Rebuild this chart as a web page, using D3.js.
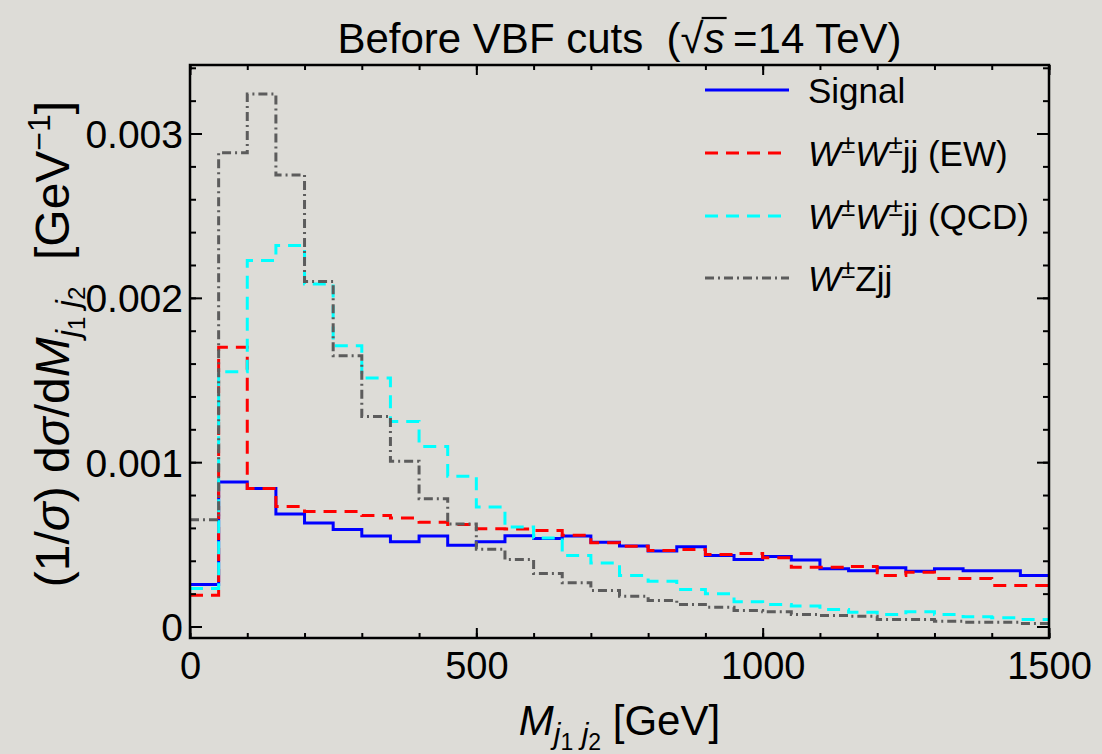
<!DOCTYPE html>
<html><head><meta charset="utf-8">
<script src="https://cdn.jsdelivr.net/npm/d3@7/dist/d3.min.js"></script>
<style>
html,body{margin:0;padding:0;background:#dddcd7;}
svg{display:block;}
text{font-family:"Liberation Sans",Arial,Helvetica,sans-serif;fill:#000;white-space:pre;}
</style></head><body>
<svg id="c" width="1102" height="754"></svg>
<script>
// ---- data (bins of 50 GeV from 0 to 1500) ----
const binEdges = d3.range(0, 1501, 50);
const signal = [0.000255,0.00088,0.00084,0.000685,0.00063,0.00059,0.00055,0.000515,0.00055,0.000494,
  0.000515,0.000553,0.000535,0.00055,0.000513,0.00049,0.00046,0.000485,0.000432,0.000407,
  0.000426,0.000405,0.000351,0.00034,0.000357,0.000336,0.000351,0.00034,0.00034,0.00031];
const wwEW = [0.00019,0.0017,0.00084,0.000731,0.0007,0.0007,0.000675,0.00066,0.000634,0.00062,
  0.000595,0.000594,0.000584,0.000555,0.000509,0.000488,0.000462,0.000468,0.000438,0.000444,
  0.000418,0.00036,0.00036,0.000365,0.00031,0.00033,0.000292,0.000292,0.000249,0.000249];
const wwQCD = [0.000231,0.00155,0.002227,0.002318,0.002085,0.001708,0.001512,0.001248,0.001096,0.000914,
  0.000727,0.000606,0.000539,0.000432,0.000387,0.00031,0.000276,0.000225,0.0002,0.00015,
  0.000134,0.000124,0.000103,0.000087,0.000073,0.00009,0.000073,0.000059,0.000053,0.000043];
const wz = [0.00065,0.002883,0.00324,0.002748,0.0021,0.001647,0.001278,0.001005,0.000778,0.000624,
  0.00047,0.000407,0.000322,0.000266,0.000219,0.000184,0.000158,0.000134,0.000117,0.000097,
  0.00009,0.000073,0.000067,0.000063,0.000043,0.000043,0.000032,0.000026,0.000026,0.000018];
const xMajorTicks = [0, 500, 1000, 1500];
const xMinorTicks = d3.range(0, 1501, 100);
const yMajorTicks = [0, 0.001, 0.002, 0.003];
const yMinorTicks = d3.range(0, 0.00341, 0.0002);
const yTickLabels = ["0", "0.001", "0.002", "0.003"];
const seriesNames = ["Signal", "EW", "QCD", "WZ"];

const series = [
  {name:"Signal", values:signal, color:"#0000ff", dash:null},
  {name:"EW", values:wwEW, color:"#ff0000", dash:"13,8"},
  {name:"QCD", values:wwQCD, color:"#00ffff", dash:"13,8"},
  {name:"WZ", values:wz, color:"#5c5c5c", dash:"9,4,2,4"}
];

const L = 190, R = 1049, T = 65, B = 638;
const svg = d3.select("#c");
const x = d3.scaleLinear().domain([0, 1500]).range([L, R]);
const y = d3.scaleLinear().domain([-0.00007, 0.003417]).range([B, T]);

svg.append("defs").append("clipPath").attr("id","clip")
  .append("rect").attr("x",L).attr("y",T).attr("width",R-L).attr("height",B-T);

const line = d3.line().x(d=>x(d[0])).y(d=>y(d[1])).curve(d3.curveStepAfter);
const g = svg.append("g").attr("clip-path","url(#clip)");
series.forEach(s=>{
  const pts = s.values.map((v,i)=>[binEdges[i], v]);
  pts.push([binEdges[s.values.length], s.values[s.values.length-1]]);
  g.append("path").attr("d", line(pts)).attr("fill","none")
    .attr("stroke", s.color).attr("stroke-width", 3)
    .attr("stroke-dasharray", s.dash);
});

// ---- axes / frame ----
function styleAxis(sel){
  sel.select(".domain").remove();
  sel.selectAll(".tick line").attr("stroke","#000").attr("stroke-width",2);
}
const fmt = d => yTickLabels[yMajorTicks.indexOf(d)];
// bottom
svg.append("g").attr("transform",`translate(0,${B})`)
  .call(d3.axisBottom(x).tickValues(xMinorTicks).tickSize(-5).tickFormat("")).call(styleAxis);
svg.append("g").attr("transform",`translate(0,${B})`)
  .call(d3.axisBottom(x).tickValues(xMajorTicks).tickSize(-10).tickPadding(16).tickFormat(d3.format("d")))
  .call(styleAxis)
  .call(a=>a.selectAll("text").attr("font-size",38).attr("dy","0.71em")
     .attr("y",14).style("font-family",'"Liberation Sans",Arial,sans-serif'));
// top
svg.append("g").attr("transform",`translate(0,${T})`)
  .call(d3.axisTop(x).tickValues(xMinorTicks).tickSize(-5).tickFormat("")).call(styleAxis);
svg.append("g").attr("transform",`translate(0,${T})`)
  .call(d3.axisTop(x).tickValues(xMajorTicks).tickSize(-10).tickFormat("")).call(styleAxis);
// left
svg.append("g").attr("transform",`translate(${L},0)`)
  .call(d3.axisLeft(y).tickValues(yMinorTicks).tickSize(-6).tickFormat("")).call(styleAxis);
svg.append("g").attr("transform",`translate(${L},0)`)
  .call(d3.axisLeft(y).tickValues(yMajorTicks).tickSize(-12).tickPadding(5).tickFormat(fmt))
  .call(styleAxis)
  .call(a=>a.selectAll("text").attr("font-size",39).attr("x",-7).attr("dy","0.36em")
     .style("font-family",'"Liberation Sans",Arial,sans-serif'));
// right
svg.append("g").attr("transform",`translate(${R},0)`)
  .call(d3.axisRight(y).tickValues(yMinorTicks).tickSize(-6).tickFormat("")).call(styleAxis);
svg.append("g").attr("transform",`translate(${R},0)`)
  .call(d3.axisRight(y).tickValues(yMajorTicks).tickSize(-12).tickFormat("")).call(styleAxis);

svg.append("rect").attr("x",L).attr("y",T).attr("width",R-L).attr("height",B-T)
  .attr("fill","none").attr("stroke","#000").attr("stroke-width",2.5);

// ---- title ----
const title = svg.append("text").attr("x",(L+R)/2).attr("y",53).attr("text-anchor","middle").attr("font-size",42);
const pre = "Before VBF cuts  (";
title.append("tspan").text(pre);
title.append("tspan").text("\u221A");
title.append("tspan").attr("font-style","italic").text("s");
title.append("tspan").text("\u2009=14 TeV)");
{
  const node = title.node();
  const idx = pre.length;
  const r1 = node.getExtentOfChar(idx);
  const r2 = node.getExtentOfChar(idx+1);
  svg.append("line").attr("x1", r1.x + r1.width - 2).attr("x2", r2.x + r2.width + 2)
    .attr("y1", r1.y + 3).attr("y2", r1.y + 3).attr("stroke","#000").attr("stroke-width",2.2);
}

// ---- x label ----
const xl = svg.append("text").attr("x",(L+R)/2).attr("y",735).attr("text-anchor","middle").attr("font-size",42);
xl.append("tspan").attr("font-style","italic").text("M");
xl.append("tspan").attr("font-style","italic").attr("font-size",30).attr("dy",9).text("j");
xl.append("tspan").attr("font-size",23).attr("dy",6).text("1");
xl.append("tspan").attr("font-size",30).attr("dy",-6).text(" ");
xl.append("tspan").attr("font-style","italic").attr("font-size",30).text("j");
xl.append("tspan").attr("font-size",23).attr("dy",6).text("2");
xl.append("tspan").attr("dy",-15).text(" [GeV]");

// ---- y label ----
const yl = svg.append("text").attr("transform","translate(69,344) rotate(-90)").attr("text-anchor","middle").attr("font-size",48);
yl.append("tspan").text("(1/");
yl.append("tspan").attr("font-style","italic").text("\u03C3");
yl.append("tspan").text(") d");
yl.append("tspan").attr("font-style","italic").text("\u03C3");
yl.append("tspan").text("/d");
yl.append("tspan").attr("font-style","italic").text("M");
yl.append("tspan").attr("font-style","italic").attr("font-size",33).attr("dy",10).text("j");
yl.append("tspan").attr("font-size",24).attr("dy",6).text("1");
yl.append("tspan").attr("font-size",33).attr("dy",-6).text(" ");
yl.append("tspan").attr("font-style","italic").attr("font-size",33).text("j");
yl.append("tspan").attr("font-size",24).attr("dy",6).text("2");
yl.append("tspan").attr("dy",-16).text("  [GeV");
yl.append("tspan").attr("font-size",32).attr("dy",-19).text("\u22121");
yl.append("tspan").attr("dy",19).text("]");

// ---- legend ----
const legendRows = [90, 153, 216, 278];
const lg = svg.append("g");
series.forEach((s,i)=>{
  lg.append("line").attr("x1",705).attr("x2",789).attr("y1",legendRows[i]).attr("y2",legendRows[i])
    .attr("stroke",s.color).attr("stroke-width",3).attr("stroke-dasharray",s.dash);
  const t = lg.append("text").attr("x",808).attr("y",legendRows[i]+13).attr("font-size",35);
  if (s.name==="Signal") { t.text("Signal"); return; }
  t.append("tspan").attr("font-style","italic").text("W");
  t.append("tspan").attr("font-size",26).attr("dy",-13).text("\u00B1");
  if (s.name==="WZ") {
    t.append("tspan").attr("dy",13).text("Zjj");
  } else {
    t.append("tspan").attr("font-style","italic").attr("dy",13).text("W");
    t.append("tspan").attr("font-size",26).attr("dy",-13).text("\u00B1");
    t.append("tspan").attr("dy",13).text(s.name==="EW" ? "jj (EW)" : "jj (QCD)");
  }
});
</script>
</body></html>
